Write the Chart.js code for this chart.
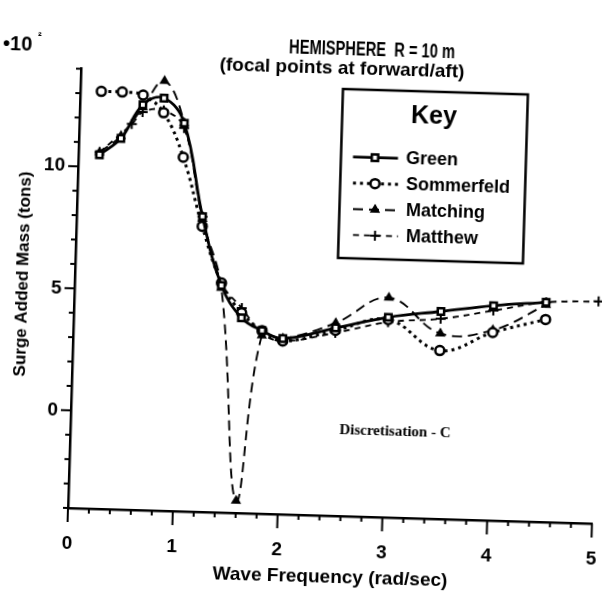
<!DOCTYPE html>
<html><head><meta charset="utf-8">
<script src="https://cdn.jsdelivr.net/npm/chart.js@4.4.1/dist/chart.umd.min.js"></script>
<style>
html,body{margin:0;padding:0;background:#fff;overflow:hidden;width:602px;height:598px}
#wrap{position:absolute;left:-20px;top:-20px;width:642px;height:640px;transform-origin:88px 528px;transform:rotate(1.7deg)}
</style></head><body>
<div id="wrap"><canvas id="c" width="642" height="640"></canvas></div>
<script>
// ---- data ----
const freqGreen      = [0.2,0.4,0.6,0.8,1.0,1.2,1.4,1.6,1.8,2.0,2.5,3.0,3.5,4.0,4.5];
const green          = [10.5,11.2,12.6,12.9,11.9,8.1,5.3,4.0,3.5,3.2,3.7,4.2,4.5,4.8,5.0];
const freqSommerfeld = [0.2,0.4,0.6,0.8,1.0,1.2,1.4,1.6,1.8,2.0,2.5,3.0,3.5,4.0,4.5];
const sommerfeld     = [13.1,13.1,13.0,12.3,10.5,7.7,5.4,4.2,3.5,3.1,3.6,4.1,2.9,3.7,4.3];
const freqMatching   = [0.2,0.4,0.6,0.8,1.0,1.2,1.4,1.6,1.8,2.0,2.5,3.0,3.5,4.0,4.5];
const matching       = [10.6,11.3,12.5,13.6,11.9,8.0,5.2,-3.5,3.3,3.2,3.9,5.0,3.6,3.8,4.9];
const freqMatthew    = [0.2,0.5,0.6,0.8,1.0,1.2,1.4,1.6,1.8,2.0,2.5,3.0,3.5,4.0,4.5,5.0];
const matthew        = [10.6,11.8,12.3,12.4,11.7,8.1,5.4,4.4,3.4,3.1,3.5,4.0,4.2,4.6,5.0,5.1];
const seriesNames    = ["Green","Sommerfeld","Matching","Matthew"];
const xTickLabels    = ["0","1","2","3","4","5"];
const yTickLabels    = ["0","5","10"];

const pts = (xs, ys) => xs.map((x, i) => ({x: x, y: ys[i]}));

// reference picture is tilted; map a reference pixel to the un-tilted canvas
const ANG = 1.7 * Math.PI / 180, CS = Math.cos(ANG), SN = Math.sin(ANG);
function R(px, py) {
  const dx = px - 68, dy = py - 508;
  return [88 + dx * CS + dy * SN, 528 - dx * SN + dy * CS];
}

const FONT = '"Liberation Sans", Arial, sans-serif';

const styles = [
  {borderDash: [], borderWidth: 2.8, pointStyle: 'rect', pointRadius: 4.5, pointBorderWidth: 2.5, pointBackgroundColor: '#fff'},
  {borderDash: [3, 4], borderWidth: 3, pointStyle: 'circle', pointRadius: 4.5, pointBorderWidth: 2.5, pointBackgroundColor: '#fff'},
  {borderDash: [10, 6], borderWidth: 1.9, pointStyle: 'triangle', pointRadius: 4.5, pointBorderWidth: 1.5, pointBackgroundColor: '#000'},
  {borderDash: [6, 5], borderWidth: 1.9, pointStyle: 'cross', pointRadius: 5, pointBorderWidth: 2, pointBackgroundColor: '#000'}
];
const dataSets = [pts(freqGreen, green), pts(freqSommerfeld, sommerfeld), pts(freqMatching, matching), pts(freqMatthew, matthew)];

const datasets = dataSets.map((d, i) => Object.assign({
  label: seriesNames[i], data: d, borderColor: '#000', pointBorderColor: '#000',
  tension: 0.4, fill: false, clip: false
}, styles[i]));

const textPlugin = {
  id: 'texts',
  afterDraw(chart) {
    const ctx = chart.ctx;
    const xs = chart.scales.x, ys = chart.scales.y, ca = chart.chartArea;
    ctx.save();
    // tick marks
    ctx.strokeStyle = '#000'; ctx.lineWidth = 2; ctx.lineCap = 'butt';
    xs.ticks.forEach(t => {
      const p = xs.getPixelForValue(t.value);
      const major = Math.abs(t.value - Math.round(t.value)) < 1e-6;
      ctx.beginPath(); ctx.moveTo(p, ca.bottom); ctx.lineTo(p, ca.bottom + (major ? 14 : 5)); ctx.stroke();
    });
    ys.ticks.forEach(t => {
      const p = ys.getPixelForValue(t.value);
      const major = Math.abs(t.value % 5) < 1e-6;
      ctx.beginPath(); ctx.moveTo(ca.left, p); ctx.lineTo(ca.left - (major ? 10 : 5), p); ctx.stroke();
    });

    ctx.fillStyle = '#000'; ctx.textAlign = 'center'; ctx.textBaseline = 'middle';
    const put = (txt, px, py, font, w) => {
      const [x, y] = R(px, py);
      ctx.font = font;
      if (w) ctx.fillText(txt, x, y, w); else ctx.fillText(txt, x, y);
    };
    put('HEMISPHERE  R = 10 m', 372, 50, 'bold 20px ' + FONT, 166);
    put('(focal points at forward/aft)', 342, 69, 'bold 19px ' + FONT, 265);
    ctx.textAlign = 'left';
    put('\u202210', 3, 44, 'bold 20px ' + FONT);
    put('\u00b2', 38, 37, 'bold 11px ' + FONT);
    ctx.textAlign = 'center';
    put('Wave Frequency (rad/sec)', 330, 578, 'bold 19px ' + FONT, 250);
    put('Discretisation - C', 395, 432, 'bold 15px "Liberation Serif", serif', 132);
    // y title
    {
      const [x, y] = R(23, 274);
      ctx.save(); ctx.translate(x, y); ctx.rotate(-Math.PI / 2);
      ctx.font = 'bold 17px ' + FONT; ctx.fillText('Surge Added Mass (tons)', 0, 0, 212);
      ctx.restore();
    }
    // legend (key)
    const [bx0, by0] = R(343, 89);
    const bw = 185, bh = 169;
    ctx.lineWidth = 2.5; ctx.strokeStyle = '#000';
    ctx.strokeRect(bx0, by0, bw, bh);
    put('Key', 434, 117, 'bold 25px ' + FONT);
    const rowY = [157, 183, 209, 235];
    chart.data.datasets.forEach((ds, i) => {
      const [lx0, ly] = R(353, rowY[i]);
      const lx1 = lx0 + 45, cx = lx0 + 22;
      ctx.save();
      ctx.setLineDash(ds.borderDash); ctx.lineWidth = ds.borderWidth; ctx.strokeStyle = '#000';
      ctx.beginPath(); ctx.moveTo(lx0, ly); ctx.lineTo(lx1, ly); ctx.stroke();
      ctx.restore();
      ctx.save();
      ctx.fillStyle = ds.pointBackgroundColor; ctx.strokeStyle = '#000'; ctx.lineWidth = ds.pointBorderWidth;
      Chart.helpers.drawPoint(ctx, {pointStyle: ds.pointStyle, radius: ds.pointRadius, borderWidth: ds.pointBorderWidth}, cx, ly);
      ctx.restore();
      ctx.textAlign = 'left'; ctx.font = 'bold 18px ' + FONT; ctx.fillStyle = '#000';
      ctx.fillText(ds.label, lx0 + 53, ly);
    });
    ctx.restore();
  }
};

new Chart(document.getElementById('c'), {
  type: 'line',
  data: {datasets: datasets},
  options: {
    responsive: false, animation: false, devicePixelRatio: 1,
    layout: {padding: {top: 88.6, right: 29.8, left: 0, bottom: 0}},
    plugins: {legend: {display: false}, tooltip: {enabled: false}, title: {display: false}},
    scales: {
      x: {
        type: 'linear', min: 0, max: 5,
        afterFit: s => { s.height = 112; },
        border: {display: true, color: '#000', width: 2.5},
        grid: {display: true, drawOnChartArea: false, drawTicks: true, tickLength: 14, tickColor: 'rgba(0,0,0,0)'},
        ticks: {stepSize: 0.2, padding: 10, color: '#000', maxRotation: 0, autoSkip: false,
          font: {family: FONT, size: 19, weight: 'bold'},
          callback: v => { const r = Math.round(v); return Math.abs(v - r) < 1e-6 ? xTickLabels[r] : ''; }}
      },
      y: {
        type: 'linear', min: -4, max: 14,
        afterFit: s => { s.width = 88; },
        border: {display: true, color: '#000', width: 2.5},
        grid: {display: true, drawOnChartArea: false, drawTicks: true, tickLength: 10, tickColor: 'rgba(0,0,0,0)'},
        ticks: {stepSize: 1, padding: 3, color: '#000', autoSkip: false,
          font: {family: FONT, size: 19, weight: 'bold'},
          callback: v => { const r = Math.round(v); return (r % 5 === 0 && r >= 0) ? yTickLabels[r / 5] : ''; }}
      }
    }
  },
  plugins: [textPlugin]
});
</script>
</body></html>
